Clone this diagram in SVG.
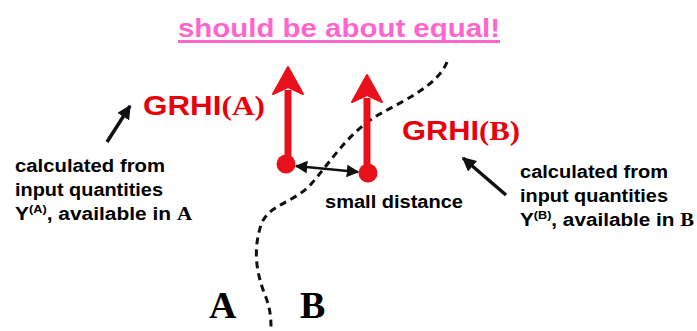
<svg xmlns="http://www.w3.org/2000/svg" width="697" height="331" viewBox="0 0 697 331">
<defs>
<style>
.note{font-family:"Liberation Sans",Arial,sans-serif;font-weight:bold;font-size:18px;fill:#000}
.ser{font-family:"Liberation Serif","Times New Roman",serif;font-weight:bold}
.grhi{font-family:"Liberation Sans",Arial,sans-serif;font-weight:bold;font-size:27px;fill:#e8000b}
.red{stroke:#e8101a;stroke-width:7;fill:none}
.ptr{stroke:#111;stroke-width:3.5;fill:none}
</style>
<marker id="ah" viewBox="0 0 10 10" refX="9" refY="5" markerWidth="4" markerHeight="4" orient="auto-start-reverse" markerUnits="strokeWidth">
<path d="M0 0 L10 5 L0 10 z" fill="#111"/>
</marker>
<marker id="ahs" viewBox="0 0 10 10" refX="9" refY="5" markerWidth="5" markerHeight="5" orient="auto-start-reverse" markerUnits="strokeWidth">
<path d="M0 0 L10 5 L0 10 z" fill="#111"/>
</marker>
</defs>
<rect width="697" height="331" fill="#fff"/>

<g id="title">
<text x="178" y="37" font-family="'Liberation Sans',Arial,sans-serif" font-weight="bold" font-size="26" fill="#ff66cc" textLength="322" lengthAdjust="spacingAndGlyphs">should be about equal!</text>
<rect x="178" y="40" width="322" height="3" fill="#ff66cc"/>
</g>

<g id="boundary">
<path d="M447 62 C438 85,405 100,378 115 C348 133,332 160,312 183 C295 203,268 204,261 225 C253 250,256 272,265 295 C271 310,271 320,271 331" fill="none" stroke="#111" stroke-width="3" stroke-dasharray="7 5"/>
</g>

<g id="grhiA">
<line x1="288" y1="165" x2="288" y2="90" class="red"/>
<path d="M288 67 L303 94 L288 87 L273 94 Z" fill="#e8101a" stroke="#e8101a" stroke-width="2" stroke-linejoin="round"/>
<circle cx="286" cy="164" r="9.5" fill="#e8101a"/>
<text x="143" y="115" class="grhi" textLength="122" lengthAdjust="spacingAndGlyphs">GRHI<tspan class="ser">(A)</tspan></text>
</g>

<g id="grhiB">
<line x1="367" y1="172" x2="367" y2="98" class="red"/>
<path d="M367 75 L382 102 L367 95 L352 102 Z" fill="#e8101a" stroke="#e8101a" stroke-width="2" stroke-linejoin="round"/>
<circle cx="368" cy="173" r="9.5" fill="#e8101a"/>
<text x="402" y="140" class="grhi" textLength="118" lengthAdjust="spacingAndGlyphs">GRHI<tspan class="ser">(B)</tspan></text>
</g>

<g id="noteA">
<text x="15" y="172" class="note" textLength="150" lengthAdjust="spacingAndGlyphs">calculated from</text>
<text x="15" y="196" class="note" textLength="148" lengthAdjust="spacingAndGlyphs">input quantities</text>
<text x="15" y="220" class="note" textLength="177" lengthAdjust="spacingAndGlyphs">Y<tspan font-size="11" dy="-7">(A)</tspan><tspan dy="7">, available in </tspan><tspan class="ser">A</tspan></text>
</g>

<g id="noteB">
<text x="520" y="178" class="note" textLength="148" lengthAdjust="spacingAndGlyphs">calculated from</text>
<text x="520" y="202" class="note" textLength="148" lengthAdjust="spacingAndGlyphs">input quantities</text>
<text x="520" y="226" class="note" textLength="174" lengthAdjust="spacingAndGlyphs">Y<tspan font-size="11" dy="-7">(B)</tspan><tspan dy="7">, available in </tspan><tspan class="ser">B</tspan></text>
</g>

<g id="distance">
<text x="325" y="208" class="note" font-size="17" textLength="138" lengthAdjust="spacingAndGlyphs">small distance</text>
</g>

<g id="regionA"><text x="209" y="318" class="ser" font-size="38" fill="#000">A</text></g>
<g id="regionB"><text x="300" y="318" class="ser" font-size="38" fill="#000">B</text></g>

<g id="connectors">
<line x1="107" y1="142" x2="130" y2="106" class="ptr" marker-end="url(#ah)"/>
<line x1="506" y1="195" x2="463" y2="158" class="ptr" marker-end="url(#ah)"/>
<line x1="296" y1="166" x2="358" y2="172" stroke="#111" stroke-width="2.5" marker-start="url(#ahs)" marker-end="url(#ahs)"/>
</g>
</svg>
